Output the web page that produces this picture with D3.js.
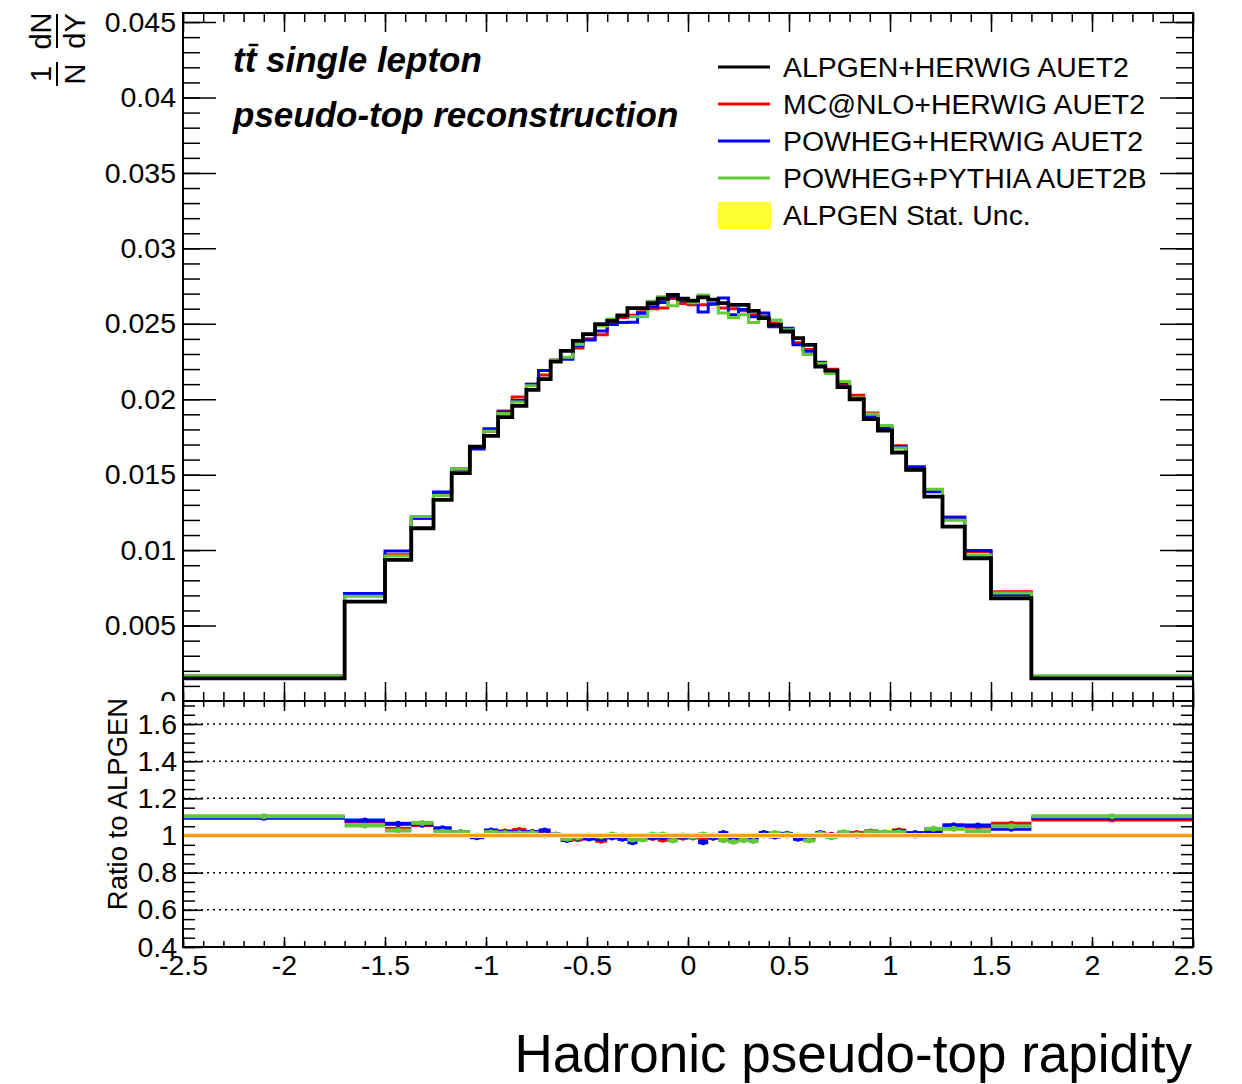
<!DOCTYPE html>
<html>
<head>
<meta charset="utf-8">
<script src="https://cdn.jsdelivr.net/npm/d3@7"></script>
<style>
body { margin: 0; background: #fff; }
text { font-family: "Liberation Sans", Arial, Helvetica, sans-serif; }
</style>
</head>
<body>
<div id="chart"></div>
<script>
// bin edges of the hadronic pseudo-top rapidity histogram
const edges = [-2.5, -1.7, -1.5, -1.37, -1.26, -1.17, -1.08, -1.01, -0.94, -0.87, -0.8, -0.74, -0.68, -0.63, -0.57, -0.52, -0.46, -0.4, -0.35, -0.3, -0.25, -0.2, -0.15, -0.1, -0.05, 0,
    0.05, 0.1, 0.15, 0.2, 0.25, 0.3, 0.35, 0.4, 0.46, 0.52, 0.57, 0.63, 0.68, 0.74, 0.8, 0.87, 0.94, 1.01, 1.08, 1.17, 1.26, 1.37, 1.5, 1.7, 2.5]

// ALPGEN+HERWIG, 1/N dN/dY per bin
const alpgen = [0.00150, 0.00659, 0.00935, 0.01145, 0.01333, 0.01510, 0.01686, 0.01757, 0.01881, 0.01956, 0.02062, 0.02133, 0.02250, 0.02320, 0.02387, 0.02432, 0.02498, 0.02520, 0.02555, 0.02604, 0.02604, 0.02637, 0.02666, 0.02692, 0.02666,
    0.02653, 0.02675, 0.02660, 0.02637, 0.02626, 0.02626, 0.02586, 0.02538, 0.02493, 0.02449, 0.02405, 0.02360, 0.02217, 0.02190, 0.02080, 0.02000, 0.01868, 0.01793, 0.01647, 0.01532, 0.01355, 0.01156, 0.00946, 0.00681, 0.00150]

// ratios to ALPGEN
const mcatnloRatio = [1.100, 1.075, 1.036, 1.057, 1.030, 1.015, 0.995, 1.018, 1.022, 1.030, 1.018, 1.013, 1.004, 0.980, 0.980, 0.987, 0.972, 0.995, 0.995, 0.982, 0.991, 0.986, 0.977, 0.991, 0.988,
    0.990, 0.982, 0.988, 0.988, 0.990, 0.985, 0.990, 1.005, 1.005, 1.000, 0.987, 0.987, 1.009, 1.004, 1.009, 1.013, 1.022, 1.013, 1.027, 1.000, 1.030, 1.054, 1.048, 1.063, 1.086]
const powhegHerwigRatio = [1.095, 1.081, 1.063, 1.060, 1.039, 1.018, 0.991, 1.027, 1.018, 1.018, 1.018, 1.027, 1.004, 0.976, 0.987, 0.984, 0.982, 0.990, 0.982, 0.964, 0.987, 0.991, 0.991, 0.995, 0.995,
    0.995, 0.964, 0.990, 1.013, 0.975, 0.988, 0.985, 1.013, 0.995, 1.009, 0.982, 0.982, 1.013, 1.000, 1.013, 1.000, 1.009, 1.009, 1.023, 1.013, 1.023, 1.054, 1.054, 1.036, 1.095]
const powhegPythiaRatio = [1.104, 1.054, 1.027, 1.068, 1.022, 1.018, 1.000, 1.018, 1.013, 1.013, 1.013, 1.000, 1.004, 0.982, 0.990, 1.000, 0.995, 1.005, 1.000, 0.978, 0.978, 1.005, 1.005, 0.973, 1.000,
    0.995, 1.006, 1.000, 0.975, 0.967, 0.975, 0.970, 1.000, 1.013, 1.005, 1.000, 0.973, 1.009, 0.991, 1.018, 1.005, 1.018, 1.018, 1.018, 1.000, 1.036, 1.036, 1.023, 1.050, 1.104]

const seriesNames = ["ALPGEN+HERWIG AUET2", "MC@NLO+HERWIG AUET2", "POWHEG+HERWIG AUET2", "POWHEG+PYTHIA AUET2B"]
const seriesColors = ["#000000", "#ff0000", "#0000ff", "#63c83a"]
const bandLabel = "ALPGEN Stat. Unc."

const yTickLabels = ["0", "0.005", "0.01", "0.015", "0.02", "0.025", "0.03", "0.035", "0.04", "0.045"]
const ratioTickLabels = ["0.4", "0.6", "0.8", "1", "1.2", "1.4", "1.6"]
const xTickLabels = ["-2.5", "-2", "-1.5", "-1", "-0.5", "0", "0.5", "1", "1.5", "2", "2.5"]

// layout
const W = 1242, H = 1084
const padL = 183, padR = 1193, padT = 13, padM = 701, padB = 947
const font = 28.5

const svg = d3.select("#chart").append("svg")
    .attr("width", W)
    .attr("height", H)

const x = d3.scaleLinear().domain([-2.5, 2.5]).range([padL, padR])
const y = d3.scaleLinear().domain([0, 0.0456]).range([padM, padT])
const yr = d3.scaleLinear().domain([0.4, 1.724]).range([padB, padM])

const ratios = [mcatnloRatio, powhegHerwigRatio, powhegPythiaRatio]
const others = ratios.map(r => alpgen.map((v, i) => v * r[i]))

function stepPoints(vals) {
    let pts = []
    vals.forEach((v, i) => {
        pts.push([x(edges[i]), y(v)])
        pts.push([x(edges[i + 1]), y(v)])
    })
    return pts
}

function styleAxis(g, size) {
    g.select(".domain").remove()
    g.selectAll("line").attr("stroke", "#000").attr("stroke-width", 1.5)
    g.attr("font-size", size).attr("font-family", "'Liberation Sans', Arial, Helvetica, sans-serif")
    g.selectAll("text").attr("fill", "#000")
}

const xMajor = xTickLabels.map(Number)
const xMinor = d3.range(-25, 26).map(i => i / 10)

// ---------- upper pad ----------
const up = svg.append("g")

const yMajor = yTickLabels.map(Number)
const yMinor = d3.range(0, 46).map(i => i / 1000)

up.append("g").attr("transform", "translate(" + padL + ",0)")
    .call(d3.axisLeft(y).tickValues(yMinor).tickSize(-17).tickFormat(""))
    .call(g => styleAxis(g, font))
up.append("g").attr("transform", "translate(" + padL + ",0)")
    .call(d3.axisLeft(y).tickValues(yMajor).tickSize(-33).tickPadding(7).tickFormat((d, i) => yTickLabels[i]))
    .call(g => styleAxis(g, font))
up.append("g").attr("transform", "translate(" + padR + ",0)")
    .call(d3.axisRight(y).tickValues(yMinor).tickSize(-17).tickFormat(""))
    .call(g => styleAxis(g, font))
up.append("g").attr("transform", "translate(" + padR + ",0)")
    .call(d3.axisRight(y).tickValues(yMajor).tickSize(-33).tickFormat(""))
    .call(g => styleAxis(g, font))
up.append("g").attr("transform", "translate(0," + padM + ")")
    .call(d3.axisBottom(x).tickValues(xMinor).tickSize(-9).tickFormat(""))
    .call(g => styleAxis(g, font))
up.append("g").attr("transform", "translate(0," + padM + ")")
    .call(d3.axisBottom(x).tickValues(xMajor).tickSize(-19).tickFormat(""))
    .call(g => styleAxis(g, font))
up.append("g").attr("transform", "translate(0," + padT + ")")
    .call(d3.axisTop(x).tickValues(xMinor).tickSize(-9).tickFormat(""))
    .call(g => styleAxis(g, font))
up.append("g").attr("transform", "translate(0," + padT + ")")
    .call(d3.axisTop(x).tickValues(xMajor).tickSize(-19).tickFormat(""))
    .call(g => styleAxis(g, font))

const line = d3.line()
others.forEach((vals, k) => {
    up.append("path")
        .attr("d", line(stepPoints(vals)))
        .attr("fill", "none")
        .attr("stroke", seriesColors[k + 1])
        .attr("stroke-width", 3)
})
up.append("path")
    .attr("d", line(stepPoints(alpgen)))
    .attr("fill", "none")
    .attr("stroke", seriesColors[0])
    .attr("stroke-width", 3.8)

up.append("rect")
    .attr("x", padL).attr("y", padT)
    .attr("width", padR - padL).attr("height", padM - padT)
    .attr("fill", "none").attr("stroke", "#000").attr("stroke-width", 2)

// labels inside the upper pad
const lab1 = up.append("text")
    .attr("x", 233).attr("y", 72)
    .attr("font-size", 35).attr("font-weight", "bold").attr("font-style", "italic")
    .text("tt single lepton")
const ext = lab1.node().getExtentOfChar(1)
up.append("line")
    .attr("x1", ext.x + 4).attr("x2", ext.x + ext.width + 2)
    .attr("y1", ext.y + 5).attr("y2", ext.y + 5)
    .attr("stroke", "#000").attr("stroke-width", 2.5)

up.append("text")
    .attr("x", 233).attr("y", 127)
    .attr("font-size", 35).attr("font-weight", "bold").attr("font-style", "italic")
    .text("pseudo-top reconstruction")

// legend
const leg = up.append("g")
seriesNames.forEach((name, i) => {
    const ly = 67 + i * 37
    leg.append("line")
        .attr("x1", 718).attr("x2", 770)
        .attr("y1", ly).attr("y2", ly)
        .attr("stroke", seriesColors[i]).attr("stroke-width", 3)
    leg.append("text")
        .attr("x", 783).attr("y", ly + 10)
        .attr("font-size", 28.4)
        .text(name)
})
leg.append("rect")
    .attr("x", 718).attr("y", 202)
    .attr("width", 53).attr("height", 27)
    .attr("fill", "#ffff33")
leg.append("text")
    .attr("x", 783).attr("y", 225)
    .attr("font-size", 28.4)
    .text(bandLabel)

// y title: 1/N dN/dY
const yt = svg.append("g").attr("transform", "translate(57,50) rotate(-90)")
yt.append("text").attr("x", -24).attr("y", -6).attr("text-anchor", "middle").attr("font-size", 29).text("1")
yt.append("text").attr("x", -24).attr("y", 28).attr("text-anchor", "middle").attr("font-size", 29).text("N")
yt.append("line").attr("x1", -36).attr("x2", -12).attr("y1", 0).attr("y2", 0).attr("stroke", "#000").attr("stroke-width", 2)
yt.append("text").attr("x", 19).attr("y", -6).attr("text-anchor", "middle").attr("font-size", 29).text("dN")
yt.append("text").attr("x", 19).attr("y", 28).attr("text-anchor", "middle").attr("font-size", 29).text("dY")
yt.append("line").attr("x1", 2).attr("x2", 36).attr("y1", 0).attr("y2", 0).attr("stroke", "#000").attr("stroke-width", 2)

// ---------- lower pad ----------
svg.append("rect")
    .attr("x", 0).attr("y", padM)
    .attr("width", W).attr("height", H - padM)
    .attr("fill", "#fff")

const lo = svg.append("g")

const rMajor = ratioTickLabels.map(Number)
const rMinor = d3.range(8, 35).map(i => i / 20)

// dotted grid
lo.selectAll(".grid")
    .data(rMajor.filter(d => d > 0.5))
    .enter()
    .append("line")
    .attr("x1", padL).attr("x2", padR)
    .attr("y1", d => yr(d)).attr("y2", d => yr(d))
    .attr("stroke", "#000").attr("stroke-width", 1.5)
    .attr("stroke-dasharray", "2,4")

lo.append("g").attr("transform", "translate(" + padL + ",0)")
    .call(d3.axisLeft(yr).tickValues(rMinor).tickSize(-12).tickFormat(""))
    .call(g => styleAxis(g, font))
lo.append("g").attr("transform", "translate(" + padL + ",0)")
    .call(d3.axisLeft(yr).tickValues(rMajor).tickSize(-20).tickPadding(6).tickFormat((d, i) => ratioTickLabels[i]))
    .call(g => styleAxis(g, font))
lo.append("g").attr("transform", "translate(" + padR + ",0)")
    .call(d3.axisRight(yr).tickValues(rMinor).tickSize(-12).tickFormat(""))
    .call(g => styleAxis(g, font))
lo.append("g").attr("transform", "translate(" + padR + ",0)")
    .call(d3.axisRight(yr).tickValues(rMajor).tickSize(-20).tickFormat(""))
    .call(g => styleAxis(g, font))
lo.append("g").attr("transform", "translate(0," + padB + ")")
    .call(d3.axisBottom(x).tickValues(xMinor).tickSize(-6).tickFormat(""))
    .call(g => styleAxis(g, font))
lo.append("g").attr("transform", "translate(0," + padB + ")")
    .call(d3.axisBottom(x).tickValues(xMajor).tickSize(-10).tickPadding(8).tickFormat((d, i) => xTickLabels[i]))
    .call(g => styleAxis(g, font))
lo.append("g").attr("transform", "translate(0," + padM + ")")
    .call(d3.axisTop(x).tickValues(xMinor).tickSize(-6).tickFormat(""))
    .call(g => styleAxis(g, font))
lo.append("g").attr("transform", "translate(0," + padM + ")")
    .call(d3.axisTop(x).tickValues(xMajor).tickSize(-10).tickFormat(""))
    .call(g => styleAxis(g, font))

// ratio histograms
ratios.forEach((r, k) => {
    const g = lo.append("g")
    g.selectAll("line")
        .data(r)
        .enter()
        .append("line")
        .attr("x1", (d, i) => x(edges[i]))
        .attr("x2", (d, i) => x(edges[i + 1]))
        .attr("y1", d => yr(d))
        .attr("y2", d => yr(d))
        .attr("stroke", seriesColors[k + 1])
        .attr("stroke-width", 4)
    g.selectAll("circle")
        .data(r)
        .enter()
        .append("circle")
        .attr("cx", (d, i) => x((edges[i] + edges[i + 1]) / 2))
        .attr("cy", d => yr(d))
        .attr("r", 3)
        .attr("fill", seriesColors[k + 1])
})

// ALPGEN stat band and reference line at 1
lo.append("line")
    .attr("x1", padL).attr("x2", padR)
    .attr("y1", yr(1)).attr("y2", yr(1))
    .attr("stroke", "#ffff33").attr("stroke-width", 5)
lo.append("line")
    .attr("x1", padL).attr("x2", padR)
    .attr("y1", yr(1)).attr("y2", yr(1))
    .attr("stroke", "#ff9c1a").attr("stroke-width", 3)

lo.append("rect")
    .attr("x", padL).attr("y", padM)
    .attr("width", padR - padL).attr("height", padB - padM)
    .attr("fill", "none").attr("stroke", "#000").attr("stroke-width", 2)

svg.append("text")
    .attr("transform", "translate(127,804) rotate(-90)")
    .attr("text-anchor", "middle")
    .attr("font-size", 27.5)
    .text("Ratio to ALPGEN")

svg.append("text")
    .attr("x", 1192).attr("y", 1072)
    .attr("text-anchor", "end")
    .attr("font-size", 53)
    .text("Hadronic pseudo-top rapidity")
</script>
</body>
</html>
